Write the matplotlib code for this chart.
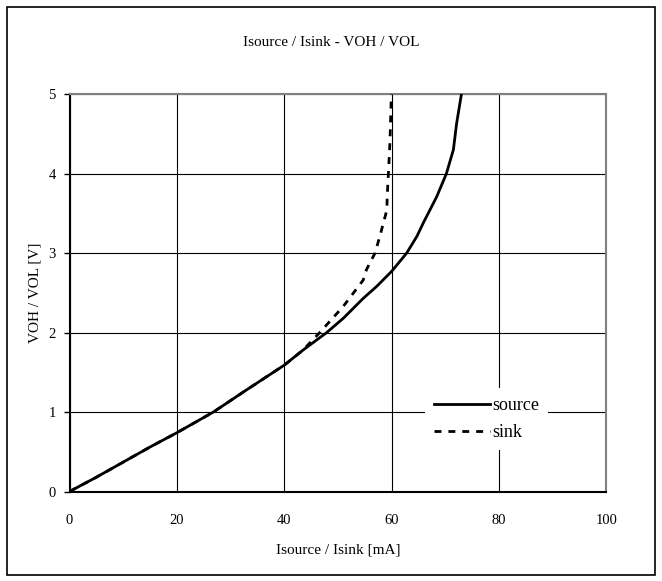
"""
Output drive characteristic: VOH / VOL against source / sink current.
"""

import matplotlib
matplotlib.use("Agg")
import matplotlib.pyplot as plt
from matplotlib.patches import Rectangle

plt.rcParams["font.family"] = ["Liberation Serif", "DejaVu Serif"]

# source current [mA] vs VOH [V]
source_i = [0, 5, 10, 15, 20, 26.8, 33, 40, 43.5, 47.9, 51.0, 54.7,
            57.2, 60.0, 62.8, 64.7, 65.9, 68.4, 70.2, 71.5, 72.1, 73.0]
source_v = [0, 0.18, 0.37, 0.56, 0.74, 1.0, 1.28, 1.59, 1.78, 2.0, 2.18, 2.43,
            2.58, 2.77, 3.0, 3.21, 3.38, 3.71, 4.0, 4.30, 4.63, 5.0]

# sink current [mA] vs VOL [V]
sink_i = [0, 5, 10, 15, 20, 26.8, 33, 40, 43.5, 46.6, 51.0, 53.8,
          54.7, 55.3, 56.9, 57.8, 59.1, 59.2, 59.4, 59.7, 59.9, 60.0]
sink_v = [0, 0.18, 0.37, 0.56, 0.74, 1.0, 1.28, 1.59, 1.78, 2.0, 2.33, 2.58,
          2.66, 2.79, 3.0, 3.21, 3.54, 3.75, 4.0, 4.42, 4.89, 5.0]

x_ticks = [0, 20, 40, 60, 80, 100]
y_ticks = [0, 1, 2, 3, 4, 5]

fig = plt.figure(figsize=(6.62, 5.81), dpi=100)
ax = fig.add_axes([0.105, 0.154, 0.811, 0.684])

ax.plot(source_i, source_v, color="black", linewidth=2.0, label="source", zorder=3)
ax.plot(sink_i, sink_v, color="black", linewidth=2.0, linestyle=(0, (2.5, 2.5)),
        label="sink", zorder=4)

ax.set_xlim(0, 100)
ax.set_ylim(0, 5)
ax.set_xticks(x_ticks)
ax.set_yticks(y_ticks)
ax.grid(True, color="black", linewidth=0.8)
ax.set_axisbelow(True)

ax.tick_params(axis="x", length=0, pad=16, labelsize=10.5)
ax.tick_params(axis="y", length=4, width=1, pad=6, labelsize=10.5)

for side in ("left", "bottom"):
    ax.spines[side].set_color("black")
    ax.spines[side].set_linewidth(1.5)
for side in ("top", "right"):
    ax.spines[side].set_color("#808080")
    ax.spines[side].set_linewidth(1.5)

ax.set_xlabel("Isource / Isink [mA]", fontsize=11, labelpad=12)
ax.set_ylabel("VOH / VOL [V]", fontsize=11, labelpad=5)

fig.text(0.5, 0.926, "Isource / Isink - VOH / VOL", ha="center", va="center",
         fontsize=11)

leg = ax.legend(loc="upper left", bbox_to_anchor=(0.646, 0.283), frameon=True,
                fancybox=False, edgecolor="white", framealpha=1.0,
                handlelength=3.1, handletextpad=0.1, labelspacing=0.55,
                fontsize=13, borderpad=0.5)
leg.get_frame().set_linewidth(0)

# outer border around the whole chart
fig.patches.append(Rectangle((0.011, 0.011), 0.978, 0.977, transform=fig.transFigure,
                             fill=False, edgecolor="black", linewidth=1.2))

plt.savefig("out.png", dpi=100)
